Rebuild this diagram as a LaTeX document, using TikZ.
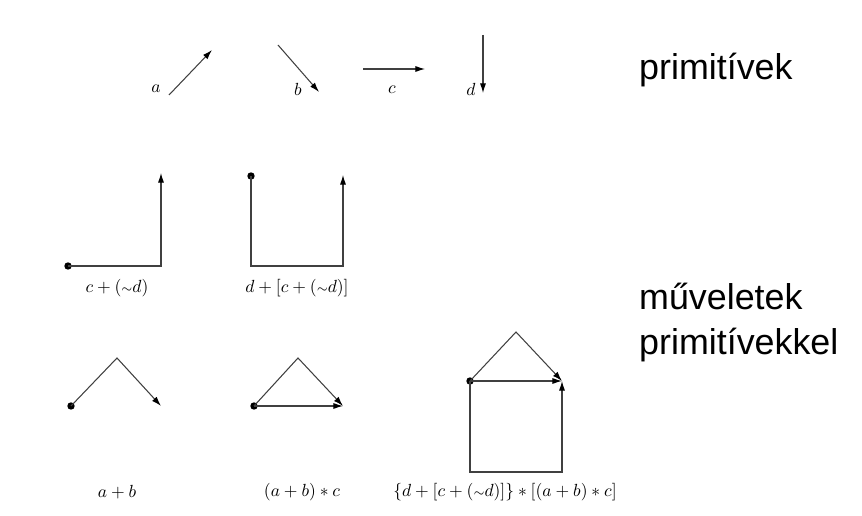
\documentclass[tikz,border=0pt]{standalone}
\usepackage{fontspec}
\newfontfamily\captionfont{Liberation Sans}
\usetikzlibrary{arrows.meta}
\newcommand{\tneg}{{\scriptstyle\sim}}
\tikzset{
  vec/.style={semithick, black!75, -{Latex[length=5.5pt,width=3.5pt,black]}},
  startdot/.style={circle, fill=black, inner sep=0pt, minimum size=4.2pt},
  lbl/.style={font=\normalsize},
  caption/.style={anchor=base west, font=\captionfont\fontsize{20.4}{24}\selectfont}
}

\begin{document}
\begin{tikzpicture}[x=0.02cm, y=-0.02cm]
        \useasboundingbox (0,0) rectangle (862,516);

        % Primitivek
        \coordinate (a0) at (169,95);  \coordinate (a1) at (212,50);
        \coordinate (b0) at (278,45);  \coordinate (b1) at (319,92);
        \coordinate (c0) at (363,69);  \coordinate (c1) at (425,69);
        \coordinate (d0) at (483,35);  \coordinate (d1) at (483,93);
        \draw[vec] (a0) -- (a1);
        \draw[vec] (b0) -- (b1);
        \draw[vec] (c0) -- (c1);
        \draw[vec] (d0) -- (d1);
        \node[lbl] (la) at (156,89) {$a$};
        \node[lbl] (lb) at (298,89) {$b$};
        \node[lbl] (lc) at (392,90) {$c$};
        \node[lbl] (ld) at (471,89) {$d$};

        % c + (~d)
        \node[startdot] (s1) at (68,266) {};
        \coordinate (s1b) at (161,266); \coordinate (s1e) at (161,173);
        \draw[vec] (s1.center) -- (s1b) -- (s1e);
        \node[lbl] (l1) at (117,288) {$c + (\tneg d)$};

        % d + [c + (~d)]
        \node[startdot] (s2) at (251,176) {};
        \coordinate (s2b) at (251,266); \coordinate (s2c) at (343,266); \coordinate (s2e) at (343,175);
        \draw[vec] (s2.center) -- (s2b) -- (s2c) -- (s2e);
        \node[lbl] (l2) at (297,288) {$d + [c + (\tneg d)]$};

        % a + b
        \node[startdot] (s3) at (71,406) {};
        \coordinate (s3t) at (117,358); \coordinate (s3e) at (161,406);
        \draw[vec] (s3.center) -- (s3t) -- (s3e);
        \node[lbl] (l3) at (117,492) {$a + b$};

        % (a + b) * c
        \node[startdot] (s4) at (254,406) {};
        \coordinate (s4t) at (298,358); \coordinate (s4e) at (343,406);
        \draw[vec] (s4.center) -- (s4t) -- (s4e);
        \draw[vec] (s4.center) -- (s4e);
        \node[lbl] (l4) at (302,492) {$(a + b)\ast c$};

        % {d + [c + (~d)]} * [(a + b) * c]
        \node[startdot] (s5) at (470,381) {};
        \coordinate (s5t) at (516,332); \coordinate (s5e) at (562,381);
        \coordinate (s5b) at (470,472); \coordinate (s5c) at (562,472);
        \draw[vec] (s5.center) -- (s5t) -- (s5e);
        \draw[vec] (s5.center) -- (s5e);
        \draw[vec] (s5.center) -- (s5b) -- (s5c) -- (s5e);
        \node[lbl] (l5) at (505,492) {$\{d + [c + (\tneg d)]\}\ast[(a + b)\ast c]$};

        % Feliratok
        \node[caption] (prim) at (633,80) {primitívek};
        \node[caption] (muv) at (633,310) {műveletek};
        \node[caption] (muvp) at (633,355) {primitívekkel};
      \end{tikzpicture}
\end{document}
